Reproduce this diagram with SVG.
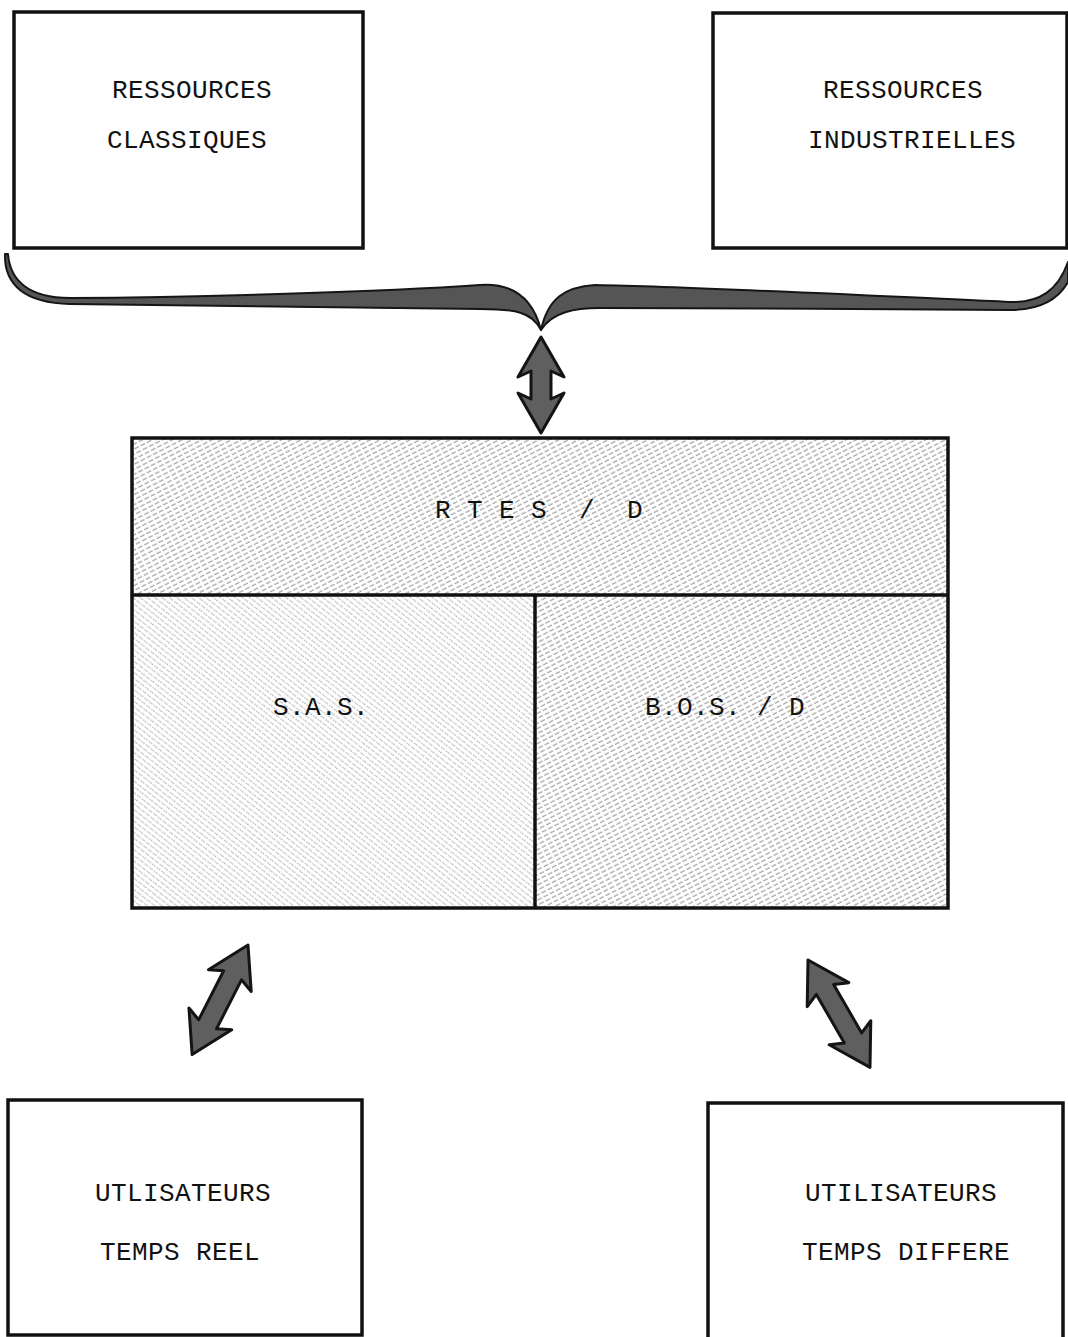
<svg xmlns="http://www.w3.org/2000/svg" width="1068" height="1337" viewBox="0 0 1068 1337">
<style>
.box{fill:#fff;stroke:#111;stroke-width:3.5}
.edge{fill:none;stroke:#111;stroke-width:3.5}
.lbl{font-family:"Liberation Mono","DejaVu Sans Mono",monospace;font-size:26px;letter-spacing:0.4px;fill:#111}
.arr{fill:#5f5f5f;stroke:#141414;stroke-width:3;stroke-linejoin:round}
.brace{fill:#555;stroke:#151515;stroke-width:2;stroke-linejoin:round}
</style>
<defs>
<pattern id="hatchA" width="7" height="4.5" patternUnits="userSpaceOnUse" patternTransform="rotate(-27)">
<line x1="0" y1="2" x2="7" y2="2" stroke="#8c8c8c" stroke-width="1" stroke-dasharray="5 2"/>
</pattern>
<pattern id="hatchB" width="6" height="4.5" patternUnits="userSpaceOnUse" patternTransform="rotate(38)">
<line x1="0" y1="2" x2="6" y2="2" stroke="#a6a6a6" stroke-width="1" stroke-dasharray="2 1.5"/>
</pattern>
</defs>
<rect width="1068" height="1337" fill="#fff"/>

<g id="node-classiques">
<rect class="box" x="14" y="12" width="349" height="236"/>
<text class="lbl" x="112" y="98">RESSOURCES</text>
<text class="lbl" x="107" y="148">CLASSIQUES</text>
</g>

<g id="node-industrielles">
<rect class="box" x="713" y="13" width="354" height="235"/>
<text class="lbl" x="823" y="98">RESSOURCES</text>
<text class="lbl" x="808" y="148">INDUSTRIELLES</text>
</g>

<g id="node-rtes">
<rect x="132" y="438" width="816" height="157" fill="url(#hatchA)"/>
<text class="lbl" x="435" y="518" xml:space="preserve">R T E S  /  D</text>
</g>

<g id="node-sas">
<rect x="132" y="595" width="403" height="313" fill="url(#hatchB)"/>
<text class="lbl" x="273" y="715">S.A.S.</text>
</g>

<g id="node-bos">
<rect x="535" y="595" width="413" height="313" fill="url(#hatchA)"/>
<text class="lbl" x="645" y="715">B.O.S. / D</text>
</g>

<g id="frame">
<rect class="edge" x="132" y="438" width="816" height="470"/>
<line class="edge" x1="132" y1="595" x2="948" y2="595"/>
<line class="edge" x1="535" y1="595" x2="535" y2="908"/>
</g>

<g id="node-reel">
<rect class="box" x="8" y="1100" width="354" height="235"/>
<text class="lbl" x="95" y="1201">UTLISATEURS</text>
<text class="lbl" x="100" y="1260">TEMPS REEL</text>
</g>

<g id="node-differe">
<rect class="box" x="708" y="1103" width="355" height="240"/>
<text class="lbl" x="805" y="1201">UTILISATEURS</text>
<text class="lbl" x="802" y="1260">TEMPS DIFFERE</text>
</g>

<g id="connectors">
<path class="brace" d="M 8,254 C 10,280 28,298 70,298 C 200,297 380,292 480,285 C 510,283 532,295 541,330 C 532,312 515,309 480,309 C 380,309 200,305 70,304 C 25,303 4,285 5,254 Z"/>
<path class="brace" d="M 541,330 C 548,298 565,287 595,285 C 700,287 900,297 1010,302 C 1040,303 1058,290 1068,262 L 1068,282 C 1058,300 1040,310 1010,310 C 900,309 700,308 600,308 C 575,308 552,312 541,330 Z"/>
<path class="arr" transform="translate(541,337) rotate(90)" d="M0,0 L40,-23 L34,-10 L62,-10 L56,-23 L96,0 L56,23 L62,10 L34,10 L40,23 Z"/>
<path class="arr" transform="translate(248,945) rotate(117)" d="M0,0 L40,-24 L34,-10 L89,-10 L83,-24 L123,0 L83,24 L89,10 L34,10 L40,24 Z"/>
<path class="arr" transform="translate(808,960) rotate(60)" d="M0,0 L40,-24 L34,-10 L90,-10 L84,-24 L124,0 L84,24 L90,10 L34,10 L40,24 Z"/>
</g>
</svg>
